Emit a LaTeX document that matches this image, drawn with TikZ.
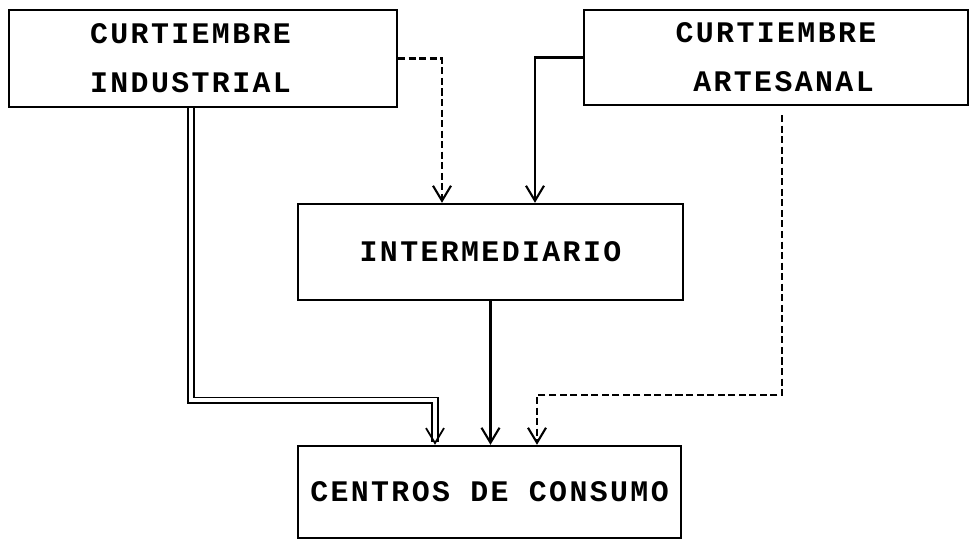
\documentclass[tikz,border=0pt]{standalone}
\usepackage{fontspec}
\setmonofont[LetterSpace=8]{Liberation Mono}
\usetikzlibrary{arrows.meta}
\tikzstyle{boxStyle}=[shape = rectangle, draw, line width = 1.4pt, inner sep = 0pt, align = center, font = \ttfamily\bfseries\fontsize{17}{28}\selectfont]
\tikzstyle{flowStyle}=[line width = 1.2pt, -{Straight Barb[length = 3mm, width = 3.6mm]}]

\begin{document}
\begin{tikzpicture}[x = 0.02cm, y = -0.02cm]
\useasboundingbox (0,0) rectangle (969,539);
\tikzstyle{dashedStyle}=[flowStyle, dash pattern = on 4pt off 2pt]
\tikzstyle{doubleStyle}=[flowStyle, double, double distance = 2pt, line width = 1pt]
% Top boxes
\node[boxStyle, minimum width = 7.76cm, minimum height = 1.94cm] (ci) at (203,58.5) {CURTIEMBRE\hspace*{0.5cm}\\INDUSTRIAL\hspace*{0.5cm}};
\node[boxStyle, minimum width = 7.68cm, minimum height = 1.90cm] (ca) at (776,57.5) {CURTIEMBRE\\\hspace*{0.3cm}ARTESANAL};
% Middle and bottom
\node[boxStyle, minimum width = 7.70cm, minimum height = 1.92cm] (inter) at (490.5,252) {INTERMEDIARIO};
\node[boxStyle, minimum width = 7.66cm, minimum height = 1.84cm] (cc) at (489.5,492) {CENTROS DE CONSUMO};
% Bends
\coordinate (xa) at (442,0);
\coordinate (xb) at (535,0);
\coordinate (bendA) at (191,400);
\coordinate (xd) at (435,0);
\coordinate (bendC) at (782,395);
\coordinate (xe) at (537,0);
% Edges
\draw[dashedStyle] (ci.east) -| (xa |- inter.north);
\draw[flowStyle] (ca.west) -| (xb |- inter.north);
\draw[doubleStyle] (ci.south -| bendA) -- (bendA) -| (xd |- cc.north);
\draw[flowStyle] (inter.south) -- (inter.south |- cc.north);
\draw[dashedStyle, shorten < = 5pt] (ca.south -| bendC) -- (bendC) -| (xe |- cc.north);
\end{tikzpicture}
\end{document}
